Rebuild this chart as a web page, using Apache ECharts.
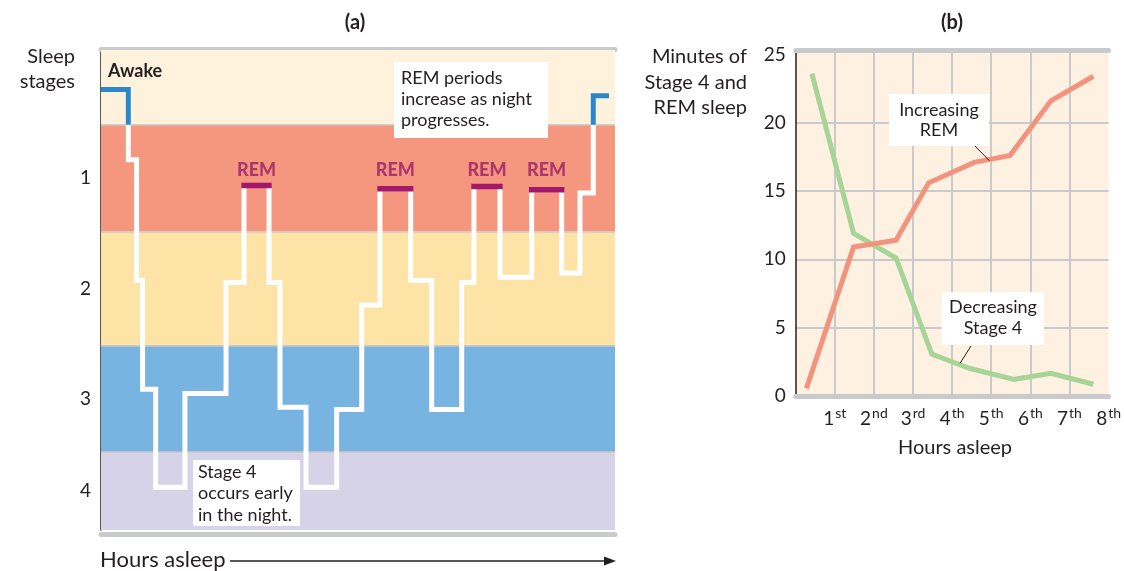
<!DOCTYPE html>
<html><head><meta charset="utf-8">
<script src="https://cdn.jsdelivr.net/npm/echarts@6/dist/echarts.min.js"></script>
<style>html,body{margin:0;padding:0;background:#fff}#c{width:1124px;height:571px}</style>
</head><body><div id="c"></div>
<script>
// ---------- Panel (a): hypnogram ----------
const stageLabels = ['1', '2', '3', '4'];
const stageBandBounds = [-0.2, 0.5, 1.5, 2.57, 3.57, 4.3]; // Awake, 1, 2, 3, 4
const stageBandColors = ['#FEF2DD', '#F5967F', '#FEE3A6', '#78B4E2', '#D6D2E8'];
const hypnoStart = [0, 0.425, 0.554, 0.647, 0.851, 1.307, 1.946, 2.226, 2.615, 2.786, 3.191, 3.668, 4.058, 4.342, 4.82, 5.147, 5.614, 5.805, 6.21, 6.703, 7.17, 7.455, 7.662];
const hypnoLevel = [0.17, 0.83, 1.96, 2.98, 3.90, 3.02, 1.98, 1.07, 1.98, 3.15, 3.90, 3.17, 2.19, 1.10, 1.96, 3.17, 1.98, 1.08, 1.93, 1.11, 1.89, 1.14, 0.23];
const hypnoIsREM = [0, 0, 0, 0, 0, 0, 0, 1, 0, 0, 0, 0, 0, 1, 0, 0, 0, 1, 0, 1, 0, 0, 0];
const hypnoEnd = 7.907;

// ---------- Panel (b): minutes per hour ----------
const hourLabels = ['1st', '2nd', '3rd', '4th', '5th', '6th', '7th', '8th'];
const remHours = [0.275, 1.48, 2.565, 3.4, 4.565, 5.48, 6.525, 7.61];
const remMinutes = [0.56, 10.9, 11.4, 15.6, 17.1, 17.6, 21.6, 23.4];
const stage4Hours = [0.415, 1.48, 2.565, 3.48, 4.44, 5.58, 6.525, 7.61];
const stage4Minutes = [23.6, 11.9, 10.1, 3.07, 2.03, 1.22, 1.66, 0.86];

const FONT = 'Lato, "Open Sans", sans-serif';
const INK = '#231F20';
const GRAY = '#C9CACC';

// build step polyline
const hypnoPoints = [];
const remSegments = [];
for (let i = 0; i < hypnoStart.length; i++) {
  const end = i + 1 < hypnoStart.length ? hypnoStart[i + 1] : hypnoEnd;
  hypnoPoints.push([hypnoStart[i], hypnoLevel[i]], [end, hypnoLevel[i]]);
  if (hypnoIsREM[i]) remSegments.push([[hypnoStart[i], hypnoLevel[i]], [end, hypnoLevel[i]]]);
}
// parts of the polyline inside the Awake band (drawn blue)
function clipAbove(points, limit) {
  const out = []; let cur = null;
  for (let i = 0; i < points.length - 1; i++) {
    const [x1, y1] = points[i], [x2, y2] = points[i + 1];
    if (y1 >= limit && y2 >= limit) { cur = null; continue; }
    let a = [x1, y1], b = [x2, y2];
    if (y1 > limit) a = [x1 + (x2 - x1) * (limit - y1) / (y2 - y1), limit];
    if (y2 > limit) b = [x1 + (x2 - x1) * (limit - y1) / (y2 - y1), limit];
    if (!cur) { cur = [a]; out.push(cur); }
    cur.push(b);
    if (y2 > limit) cur = null;
  }
  return out;
}
const awakeParts = clipAbove(hypnoPoints, stageBandBounds[1]);
const stageMids = stageLabels.map((s, i) => (stageBandBounds[i + 1] + stageBandBounds[i + 2]) / 2);
const remLabelLevel = Math.min.apply(null, remSegments.map(s => s[0][1]));

const chart = echarts.init(document.getElementById('c'), null, {renderer: 'canvas'});

const bandAreas = stageBandColors.map((c, i) => [
  {yAxis: stageBandBounds[i], itemStyle: {color: c}},
  {yAxis: stageBandBounds[i + 1]}
]);
const bandBorders = stageBandBounds.slice(1, -1).map(v => ({yAxis: v}));

const series = [
  {
    type: 'line', xAxisIndex: 0, yAxisIndex: 0, data: [], z: 1, silent: true,
    markArea: {silent: true, data: bandAreas, itemStyle: {borderWidth: 0}},
    markLine: {silent: true, z: 1, symbol: ['none', 'none'], label: {show: false},
      lineStyle: {color: '#CBC6C0', width: 1.5, type: 'solid'}, data: bandBorders}
  },
  {
    type: 'line', xAxisIndex: 0, yAxisIndex: 0, data: hypnoPoints, z: 3,
    showSymbol: false, silent: true,
    lineStyle: {width: 5, color: '#FFFFFF', join: 'miter', cap: 'butt'}
  }
];
awakeParts.forEach(p => {
  series.push({
    type: 'line', xAxisIndex: 0, yAxisIndex: 0, data: p, z: 4, showSymbol: false, silent: true,
    lineStyle: {width: 5, color: '#2A87C9', join: 'miter', cap: 'butt'}
  });
});
remSegments.forEach(seg => {
  series.push({
    type: 'line', xAxisIndex: 0, yAxisIndex: 0, data: seg, z: 4, showSymbol: false, silent: true,
    lineStyle: {width: 5.5, color: '#A3186A', cap: 'square'}
  });
});
series.push({
  type: 'scatter', xAxisIndex: 0, yAxisIndex: 0, z: 5, silent: true,
  symbolSize: 1, itemStyle: {color: 'rgba(0,0,0,0)'},
  data: remSegments.map(s => [(s[0][0] + s[1][0]) / 2, remLabelLevel]),
  label: {show: true, position: 'top', distance: 6, formatter: 'REM',
    fontFamily: FONT, fontWeight: 900, fontSize: 18, color: '#9B1F69'}
});
series.push({
  type: 'line', xAxisIndex: 2, yAxisIndex: 1, z: 4, showSymbol: false, silent: true,
  data: remHours.map((h, i) => [h, remMinutes[i]]),
  lineStyle: {width: 5, color: '#F4937D', join: 'miter', cap: 'butt'}
});
series.push({
  type: 'line', xAxisIndex: 2, yAxisIndex: 1, z: 3, showSymbol: false, silent: true,
  data: stage4Hours.map((h, i) => [h, stage4Minutes[i]]),
  lineStyle: {width: 5, color: '#A7D597', join: 'miter', cap: 'butt'}
});

const option = {
  animation: false,
  backgroundColor: '#ffffff',
  grid: [
    {left: 101, top: 50, width: 514, height: 480, show: false},
    {left: 795.7, top: 50.3, width: 320, height: 345.7, show: true, backgroundColor: '#FEF1E2', borderWidth: 0}
  ],
  xAxis: [
    {gridIndex: 0, type: 'value', min: 0, max: 8, position: 'bottom', offset: 4,
      axisLine: {show: true, onZero: false, lineStyle: {color: GRAY, width: 5}},
      axisTick: {show: false}, axisLabel: {show: false}, splitLine: {show: false}},
    {gridIndex: 0, type: 'value', min: 0, max: 8, position: 'top', offset: 1,
      axisLine: {show: true, onZero: false, lineStyle: {color: GRAY, width: 5}},
      axisTick: {show: false}, axisLabel: {show: false}, splitLine: {show: false}},
    {gridIndex: 1, type: 'value', min: 0, max: 8, interval: 1, position: 'bottom',
      axisLine: {show: true, onZero: false, lineStyle: {color: GRAY, width: 5}},
      axisTick: {show: false},
      axisLabel: {
        margin: 10, color: INK, fontFamily: FONT,
        formatter: v => {
          const lab = hourLabels[Math.round(v) - 1];
          if (!lab || Math.abs(v - Math.round(v)) > 1e-6) return '';
          const m = lab.match(/^(\d+)(.*)$/);
          return '{n|' + m[1] + '}{s|' + m[2] + '}';
        },
        rich: {
          n: {fontSize: 19, fontFamily: FONT, color: INK, lineHeight: 22, verticalAlign: 'bottom'},
          s: {fontSize: 14, fontFamily: FONT, color: INK, lineHeight: 22, verticalAlign: 'top', padding: [0, 0, 8, 1]}
        }
      },
      splitLine: {show: true, showMinLine: false, showMaxLine: false, lineStyle: {color: GRAY, width: 2}}},
    {gridIndex: 1, type: 'value', min: 0, max: 8, position: 'top',
      axisLine: {show: true, onZero: false, lineStyle: {color: GRAY, width: 5}},
      axisTick: {show: false}, axisLabel: {show: false}, splitLine: {show: false}}
  ],
  yAxis: [
    {gridIndex: 0, type: 'value', inverse: true, min: stageBandBounds[0], max: stageBandBounds[stageBandBounds.length - 1],
      axisLine: {show: true, onZero: false, lineStyle: {color: INK, width: 1.5}},
      axisTick: {show: false},
      axisLabel: {
        customValues: stageMids, margin: 10, color: INK, fontFamily: FONT, fontSize: 19,
        formatter: v => {
          let best = 0, bd = 1e9;
          stageMids.forEach((m, i) => { const d = Math.abs(m - v); if (d < bd) { bd = d; best = i; } });
          return stageLabels[best];
        }
      },
      splitLine: {show: false}},
    {gridIndex: 1, type: 'value', min: 0, max: 25.3, interval: 5,
      axisLine: {show: true, onZero: false, lineStyle: {color: INK, width: 1.5}},
      axisTick: {show: false},
      axisLabel: {margin: 10, color: INK, fontFamily: FONT, fontSize: 19,
        formatter: v => (Math.abs(v / 5 - Math.round(v / 5)) < 1e-6 ? String(v) : '')},
      splitLine: {show: true, showMinLine: false, showMaxLine: false,
        lineStyle: {color: [GRAY, GRAY, GRAY, GRAY, 'rgba(0,0,0,0)'], width: 2}}}
  ],
  series: series,
  graphic: [
    {type: 'text', x: 355, y: 23, style: {text: '(a)', font: 'bold 20px ' + FONT, fill: INK, textAlign: 'center', textVerticalAlign: 'middle'}},
    {type: 'text', x: 952, y: 23, style: {text: '(b)', font: 'bold 20px ' + FONT, fill: INK, textAlign: 'center', textVerticalAlign: 'middle'}},
    {type: 'text', x: 75, y: 69.5, style: {text: 'Sleep\nstages', font: '20px ' + FONT, lineHeight: 25, fill: INK, textAlign: 'right', textVerticalAlign: 'middle'}},
    {type: 'text', x: 108, y: 71, z: 10, style: {text: 'Awake', font: 'bold 18px ' + FONT, fill: INK, textAlign: 'left', textVerticalAlign: 'middle'}},
    {type: 'rect', z: 10, shape: {x: 394, y: 62, width: 154, height: 76}, style: {fill: '#FFFFFF'}},
    {type: 'text', x: 401, y: 99, z: 11, style: {text: 'REM periods\nincrease as night\nprogresses.', font: '18px ' + FONT, lineHeight: 21.3, fill: INK, textAlign: 'left', textVerticalAlign: 'middle'}},
    {type: 'rect', z: 10, shape: {x: 193, y: 460, width: 107, height: 66}, style: {fill: '#FFFFFF'}},
    {type: 'text', x: 198, y: 493.5, z: 11, style: {text: 'Stage 4\noccurs early\nin the night.', font: '18px ' + FONT, lineHeight: 21.5, fill: INK, textAlign: 'left', textVerticalAlign: 'middle'}},
    {type: 'text', x: 100, y: 560, style: {text: 'Hours asleep', font: '22px ' + FONT, fill: INK, textAlign: 'left', textVerticalAlign: 'middle'}},
    {type: 'line', shape: {x1: 230, y1: 561, x2: 606, y2: 561}, style: {stroke: INK, lineWidth: 1.3}},
    {type: 'polygon', shape: {points: [[616, 561], [604, 556.5], [604, 565.5]]}, style: {fill: INK}},
    {type: 'text', x: 747, y: 82.5, style: {text: 'Minutes of\nStage 4 and\nREM sleep', font: '20px ' + FONT, lineHeight: 25.5, fill: INK, textAlign: 'right', textVerticalAlign: 'middle'}},
    {type: 'rect', z: 10, shape: {x: 889, y: 94, width: 100, height: 52}, style: {fill: '#FFFFFF'}},
    {type: 'text', x: 939, y: 120, z: 11, style: {text: 'Increasing\nREM', font: '18px ' + FONT, lineHeight: 20.5, fill: INK, textAlign: 'center', textVerticalAlign: 'middle'}},
    {type: 'line', z: 11, shape: {x1: 975, y1: 146, x2: 989.3, y2: 160.7}, style: {stroke: INK, lineWidth: 1}},
    {type: 'rect', z: 10, shape: {x: 941.7, y: 292.3, width: 102.3, height: 52.7}, style: {fill: '#FFFFFF'}},
    {type: 'text', x: 993, y: 318, z: 11, style: {text: 'Decreasing\nStage 4', font: '18px ' + FONT, lineHeight: 21, fill: INK, textAlign: 'center', textVerticalAlign: 'middle'}},
    {type: 'line', z: 11, shape: {x1: 971, y1: 346, x2: 960, y2: 363.3}, style: {stroke: INK, lineWidth: 1}},
    {type: 'text', x: 955, y: 448, style: {text: 'Hours asleep', font: '20px ' + FONT, fill: INK, textAlign: 'center', textVerticalAlign: 'middle'}}
  ]
};
chart.setOption(option);
</script>
</body></html>
